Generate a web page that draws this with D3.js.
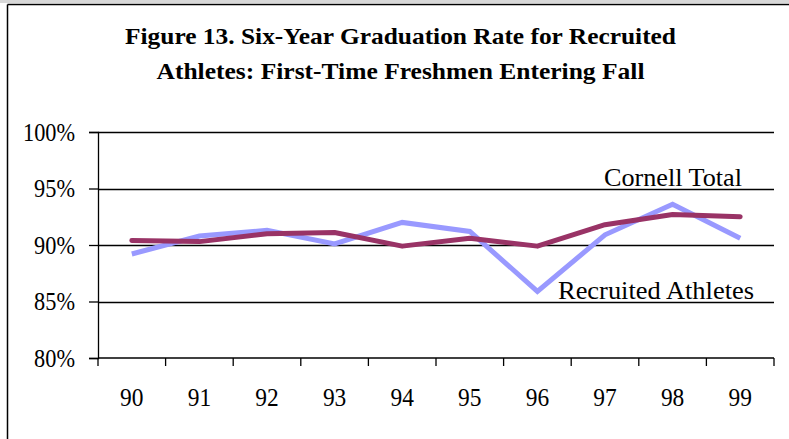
<!DOCTYPE html>
<html><head><meta charset="utf-8">
<script src="https://cdn.jsdelivr.net/npm/d3@7"></script>
<style>body{margin:0;background:#fff}svg{display:block}
svg text{font-family:"Liberation Serif","Times New Roman",serif;fill:#000}</style>
</head><body>
<script>
const years = ["90","91","92","93","94","95","96","97","98","99"];
const recruitedAthletes = [89.2, 90.8, 91.3, 90.1, 92.0, 91.2, 85.9, 90.9, 93.6, 90.6];
const cornellTotal = [90.4, 90.3, 91.0, 91.1, 89.9, 90.6, 89.9, 91.8, 92.7, 92.5];
const yTicks = [80, 85, 90, 95, 100];
const titleLines = ["Figure 13. Six-Year Graduation Rate for Recruited", "Athletes: First-Time Freshmen Entering Fall"];

const W = 789, H = 439;
const svg = d3.select("body").append("svg").attr("width", W).attr("height", H);
svg.append("rect").attr("width", W).attr("height", H).attr("fill", "#fff");
svg.append("rect").attr("x",0).attr("y",0).attr("width",W).attr("height",3).attr("fill","#d8d8d8");
// frame
svg.append("line").attr("x1",7.5).attr("x2",W).attr("y1",4.5).attr("y2",4.5).attr("stroke","#000").attr("stroke-width",1.5);
svg.append("line").attr("x1",7.5).attr("x2",7.5).attr("y1",4.5).attr("y2",H).attr("stroke","#000").attr("stroke-width",1.5);

const x = d3.scaleBand().domain(years).range([98, 774]);
const y = d3.scaleLinear().domain([80, 100]).range([358, 132]);

function squeeze(sel, f) {
  sel.each(function(){ const n = this.getComputedTextLength();
    d3.select(this).attr("textLength", n*f).attr("lengthAdjust","spacingAndGlyphs"); });
}

// title
const tw = [551, 488];
svg.selectAll("text.title").data(titleLines).enter().append("text")
  .attr("class","title")
  .attr("x", 400.5).attr("y", (d,i)=> i===0 ? 43.5 : 78.5)
  .attr("text-anchor","middle")
  .attr("font-weight","bold").attr("font-size", 24)
  .attr("textLength", (d,i)=>tw[i]).attr("lengthAdjust","spacingAndGlyphs")
  .text(d=>d);

// gridlines
svg.append("g").selectAll("line").data(yTicks.filter(t=>t>80)).enter().append("line")
  .attr("x1", 98).attr("x2", 774)
  .attr("y1", d=>Math.round(y(d))+0.5).attr("y2", d=>Math.round(y(d))+0.5)
  .attr("stroke","#000").attr("stroke-width",1.3);

// y axis
const yAxis = svg.append("g").attr("transform","translate(98,0)")
  .call(d3.axisLeft(y).tickValues(yTicks).tickSize(9).tickPadding(14).tickFormat(d=>d+"%"));
yAxis.attr("font-family", null);
yAxis.select(".domain").attr("stroke-width",1.3);
yAxis.selectAll(".tick line").attr("stroke-width",1.3);
yAxis.selectAll("text").attr("font-size",24.5).attr("dy","0.34em");
squeeze(yAxis.selectAll("text"), 0.91);

// x axis (ticks between categories)
const xg = svg.append("g").attr("transform","translate(0,358)");
xg.append("line").attr("x1",98).attr("x2",774).attr("y1",0).attr("y2",0).attr("stroke","#000").attr("stroke-width",1.3);
const bounds = years.map(d=>x(d)).concat([x.range()[1]]);
xg.selectAll("line.tk").data(bounds).enter().append("line").attr("class","tk")
  .attr("x1",d=>d).attr("x2",d=>d).attr("y1",0).attr("y2",8).attr("stroke","#000").attr("stroke-width",1.3);
const xl = xg.selectAll("text").data(years).enter().append("text")
  .attr("x", d=>x(d)+x.bandwidth()/2).attr("y", 48)
  .attr("text-anchor","middle").attr("font-size",26).text(d=>d);
squeeze(xl, 0.9);

// lines
const line = d3.line().x((d,i)=>x(years[i])+x.bandwidth()/2).y(d=>y(d));
svg.append("path").datum(recruitedAthletes).attr("d",line).attr("fill","none")
  .attr("stroke","#9999FF").attr("stroke-width",5).attr("stroke-linejoin","miter");
svg.append("path").datum(cornellTotal).attr("d",line).attr("fill","none")
  .attr("stroke","#993366").attr("stroke-width",5).attr("stroke-linejoin","round").attr("stroke-linecap","round");

// labels
svg.append("text").attr("x",604).attr("y",186).attr("font-size",25)
  .attr("textLength",138).attr("lengthAdjust","spacingAndGlyphs").text("Cornell Total");
svg.append("text").attr("x",558).attr("y",298.5).attr("font-size",25)
  .attr("textLength",196).attr("lengthAdjust","spacingAndGlyphs").text("Recruited Athletes");
</script>
</body></html>
